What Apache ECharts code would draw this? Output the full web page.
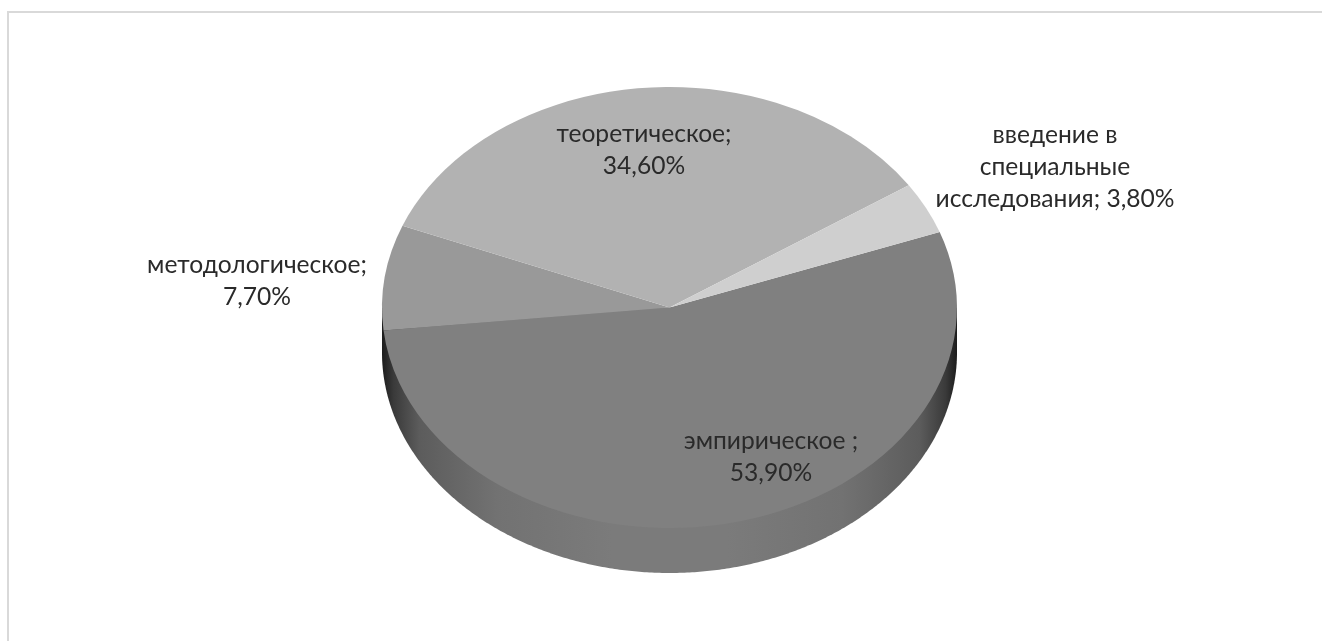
<!DOCTYPE html>
<html><head><meta charset="utf-8">
<style>html,body{margin:0;padding:0;background:#fff;overflow:hidden}#c{width:1322px;height:641px}</style>
<script src="https://cdn.jsdelivr.net/npm/echarts@6/dist/echarts.min.js"></script>
</head><body><div id="c"></div>
<script>
const categories = ['эмпирическое ', 'методологическое', 'теоретическое', 'введение в специальные исследования'];
const values = [53.9, 7.7, 34.6, 3.8];
const colors = ['#808080', '#999999', '#b2b2b2', '#cfcfcf'];
const labelLines = [
  ['эмпирическое ;'],
  ['методологическое;'],
  ['теоретическое;'],
  ['введение в', 'специальные', 'исследования;']
];
const labelAnchors = [[771, 457.5], [257, 281.5], [644, 150.5], [1055, 167.5]];
const startDeg = 20;
const C = {cx: 669.5, cy: 307.5, rx: 287.5, ry: 220.5, depth: 45};
const total = values.reduce((a, b) => a + b, 0);
const fmt = v => v.toFixed(2).replace('.', ',') + '%';

const chart = echarts.init(document.getElementById('c'), null, {renderer: 'canvas'});

function wall() {
  const pts = [];
  const n = 360;
  for (let i = 0; i <= n; i++) {
    const t = Math.PI * i / n;
    pts.push([C.cx + C.rx * Math.cos(t), C.cy + C.depth + C.ry * Math.sin(t)]);
  }
  pts.push([C.cx - C.rx, C.cy], [C.cx + C.rx, C.cy]);
  return {
    type: 'polygon', z2: 1, shape: {points: pts},
    style: {fill: new echarts.graphic.LinearGradient(0, 0, 1, 0, [
      {offset: 0, color: '#1c1c1c'}, {offset: 0.02, color: '#3a3a3a'},
      {offset: 0.065, color: '#5c5c5c'}, {offset: 0.2, color: '#727272'},
      {offset: 0.4, color: '#7b7b7b'}, {offset: 0.6, color: '#7b7b7b'},
      {offset: 0.8, color: '#727272'}, {offset: 0.935, color: '#5c5c5c'},
      {offset: 0.98, color: '#3a3a3a'}, {offset: 1, color: '#1c1c1c'}
    ])}
  };
}

let cumulative = 0;
const rows = values.map((v, i) => {
  const r = [i, v, cumulative];
  cumulative += v;
  return r;
});

chart.setOption({
  animation: false,
  backgroundColor: '#ffffff',
  graphic: [{
    type: 'rect', silent: true,
    shape: {x: 8, y: 12, width: 1400, height: 700},
    style: {fill: 'none', stroke: '#d9d9d9', lineWidth: 2}
  }],
  series: [{
    type: 'custom',
    coordinateSystem: 'none',
    silent: true,
    data: rows,
    renderItem(params, api) {
      const i = api.value(0), v = api.value(1), cum = api.value(2);
      const a0 = (-startDeg + cum / total * 360) * Math.PI / 180;
      const a1 = (-startDeg + (cum + v) / total * 360) * Math.PI / 180;
      const anchor = labelAnchors[i];
      const text = labelLines[i].slice();
      if (i === 3) text[2] += ' ' + fmt(v); else text.push(fmt(v));
      const kids = [];
      if (i === 0) kids.push(wall());
      kids.push({
        type: 'sector', z2: 2, x: C.cx, y: C.cy, scaleY: C.ry / C.rx,
        shape: {cx: 0, cy: 0, r0: 0, r: C.rx, startAngle: a0, endAngle: a1, clockwise: true},
        style: {fill: colors[i]}
      });
      kids.push({
        type: 'text', z2: 5, x: anchor[0], y: anchor[1],
        style: {
          text: text.join('\n'), align: 'center', verticalAlign: 'middle',
          font: '400 24.6px Lato, "Open Sans", sans-serif', lineHeight: 32, fill: '#2a2a2a'
        }
      });
      return {type: 'group', children: kids};
    }
  }]
});
</script></body></html>
